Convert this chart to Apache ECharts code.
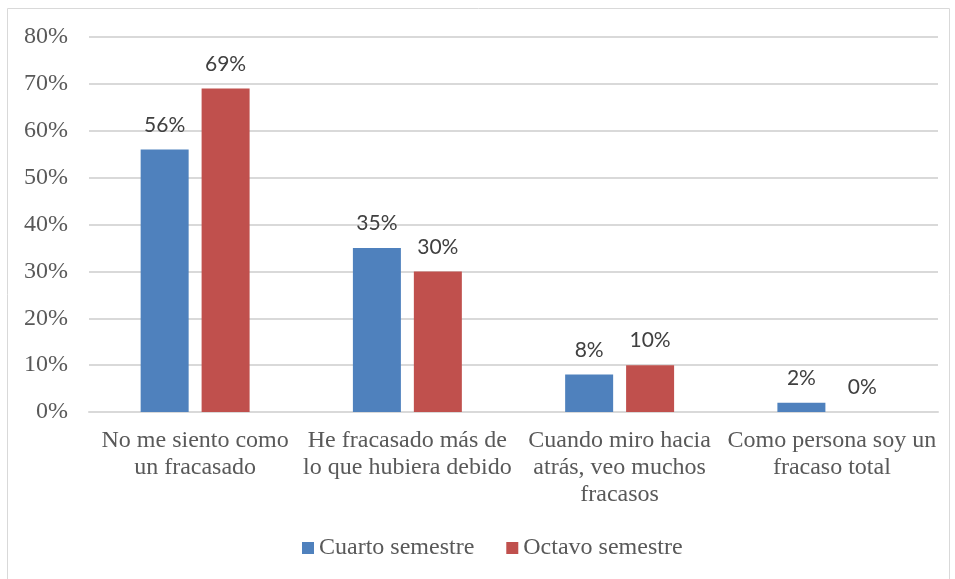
<!DOCTYPE html>
<html>
<head>
<meta charset="utf-8">
<script src="https://cdn.jsdelivr.net/npm/echarts@6/dist/echarts.min.js"></script>
<style>
  html, body { margin: 0; padding: 0; background: #fff; }
  #chart { width: 955px; height: 579px; }
</style>
</head>
<body>
<div id="chart"></div>
<script>
const categories = [
  'No me siento como\nun fracasado',
  'He fracasado más de\nlo que hubiera debido',
  'Cuando miro hacia\natrás, veo muchos\nfracasos',
  'Como persona soy un\nfracaso total'
];
const cuarto = [56, 35, 8, 2];
const octavo = [69, 30, 10, 0];
const yTicks = [0, 10, 20, 30, 40, 50, 60, 70, 80];

const serif = '"Liberation Serif", "DejaVu Serif", serif';
const sans = 'Lato, "Open Sans", sans-serif';

const chart = echarts.init(document.getElementById('chart'), null, { renderer: 'canvas' });

const labelStyle = {
  show: true,
  position: 'top',
  distance: 14,
  formatter: p => p.value + '%',
  fontFamily: sans,
  fontSize: 21,
  color: '#404040'
};

chart.setOption({
  animation: false,
  graphic: [
    { type: 'rect', shape: { x: 7.5, y: 8.5, width: 942, height: 580 },
      style: { fill: 'none', stroke: '#d9d9d9', lineWidth: 1 }, silent: true }
  ],
  grid: { left: 89, right: 17, top: 37, bottom: 167, containLabel: false },
  legend: {
    top: 531,
    left: 297,
    itemWidth: 12,
    itemHeight: 12,
    itemGap: 32,
    icon: 'rect',
    textStyle: { fontFamily: serif, fontSize: 24, color: '#595959' },
    data: ['Cuarto semestre', 'Octavo semestre']
  },
  xAxis: {
    type: 'category',
    data: categories,
    axisLine: { show: true, lineStyle: { color: '#d9d9d9', width: 2 } },
    axisTick: { show: false },
    axisLabel: {
      interval: 0,
      margin: 15,
      fontFamily: serif,
      fontSize: 24,
      lineHeight: 27,
      color: '#595959'
    }
  },
  yAxis: {
    type: 'value',
    min: yTicks[0],
    max: yTicks[yTicks.length - 1],
    interval: 10,
    axisLine: { show: false },
    axisTick: { show: false },
    splitLine: { lineStyle: { color: '#d9d9d9', width: 2 } },
    axisLabel: {
      margin: 21,
      fontFamily: serif,
      fontSize: 24,
      color: '#595959',
      formatter: v => v + '%'
    }
  },
  series: [
    {
      name: 'Cuarto semestre',
      type: 'bar',
      data: cuarto,
      barWidth: 48,
      barGap: '27%',
      itemStyle: { color: '#4f81bd' },
      label: labelStyle
    },
    {
      name: 'Octavo semestre',
      type: 'bar',
      data: octavo,
      barWidth: 48,
      itemStyle: { color: '#c0504d' },
      label: labelStyle
    }
  ]
});
</script>
</body>
</html>
